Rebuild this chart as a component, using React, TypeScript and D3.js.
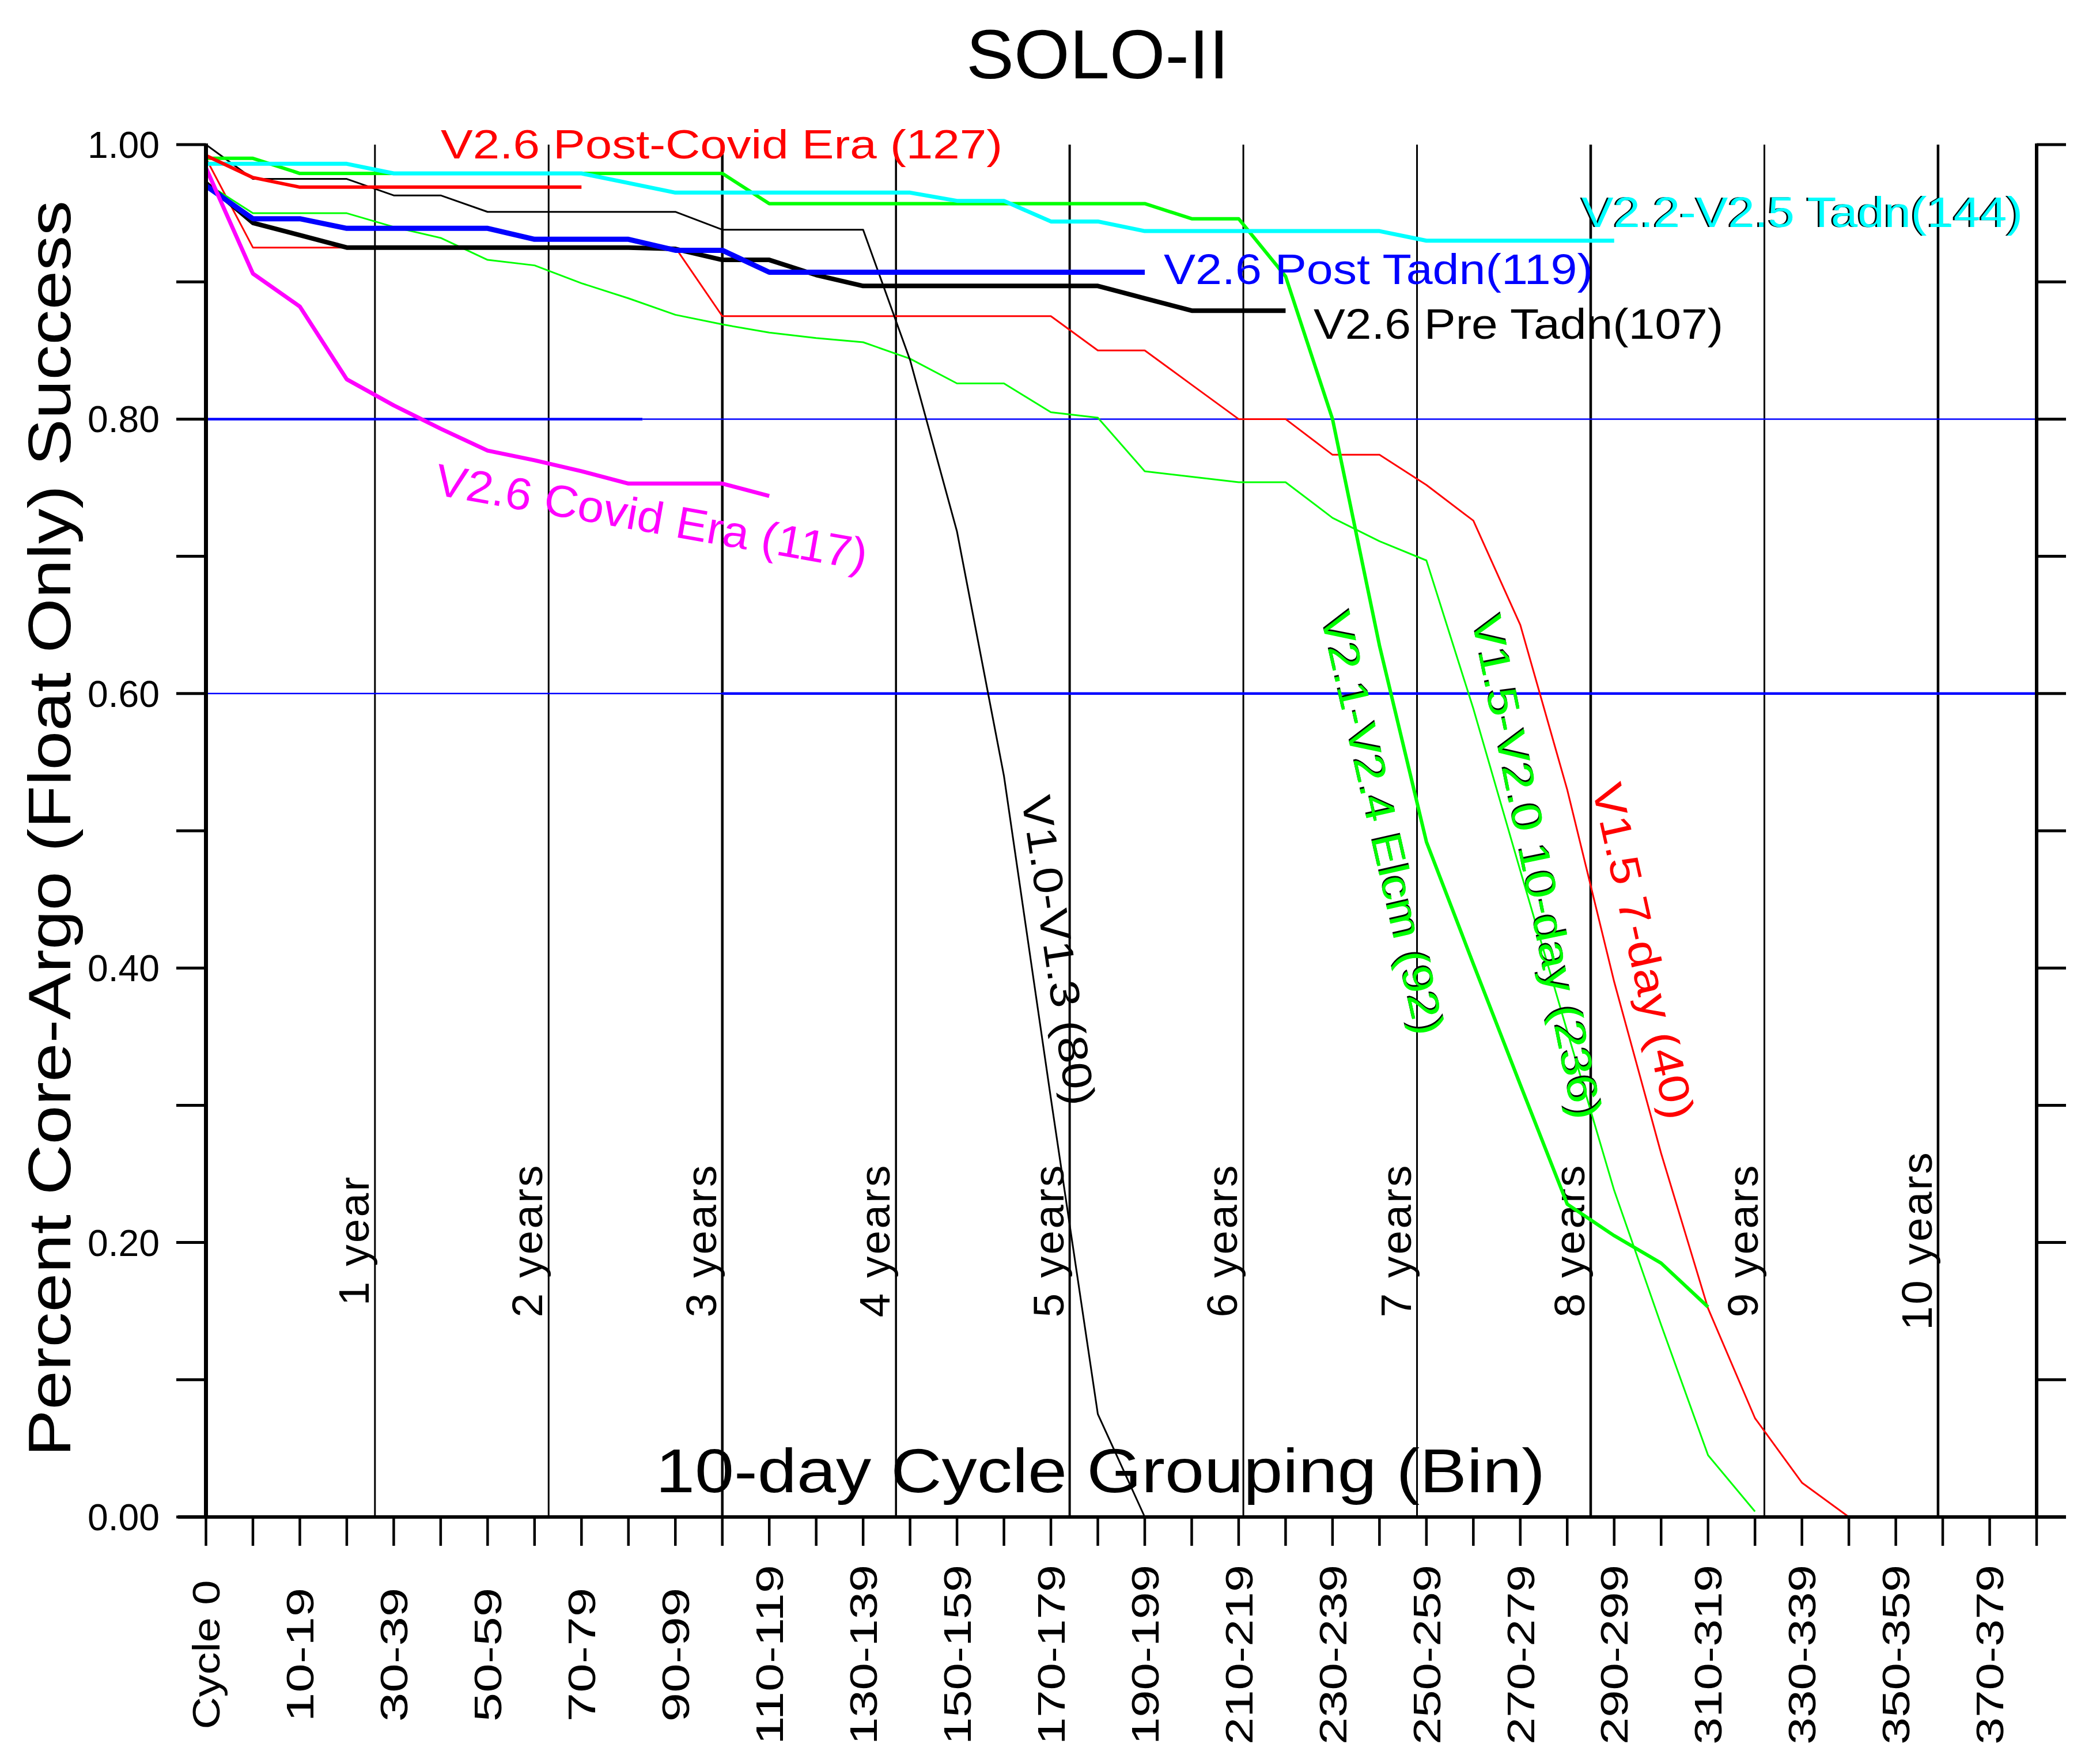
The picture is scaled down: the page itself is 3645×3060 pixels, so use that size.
import React from "react";
import * as d3 from "d3";

// ---------- DATA (index = 10-day cycle bin) ----------
const xTickLabels = [
  "Cycle 0", "10-19", "30-39", "50-59", "70-79", "90-99", "110-119", "130-139",
  "150-159", "170-179", "190-199", "210-219", "230-239", "250-259", "270-279",
  "290-299", "310-319", "330-339", "350-359", "370-379",
];
const yTickValues = [0, 0.2, 0.4, 0.6, 0.8, 1.0];
const yTickLabels = ["0.00", "0.20", "0.40", "0.60", "0.80", "1.00"];
const yearBins = [3.6, 7.3, 11.0, 14.7, 18.4, 22.1, 25.8, 29.5, 33.2, 36.9];
const yearLabels = ["1 year", "2 years", "3 years", "4 years", "5 years", "6 years", "7 years", "8 years", "9 years", "10 years"];
const thresholdValues = [0.8, 0.6];
const thresholdSplitBins = [9.3, 11.0];

// V1.5 7-day (40)
const v15SevenDay = [
  0.99, 0.925, 0.925, 0.925, 0.925, 0.925, 0.925, 0.925, 0.925, 0.925, 0.925,
  0.875, 0.875, 0.875, 0.875, 0.875, 0.875, 0.875, 0.875, 0.85, 0.85, 0.825,
  0.8, 0.8, 0.774, 0.774, 0.752, 0.726, 0.65, 0.53, 0.39, 0.265, 0.152, 0.072,
  0.025, 0.0,
];
// V1.5-V2.0 10-day (236)
const v15v20TenDay = [
  0.972, 0.95, 0.95, 0.95, 0.94, 0.932, 0.916, 0.912, 0.899, 0.888, 0.876,
  0.869, 0.863, 0.859, 0.856, 0.844, 0.826, 0.826, 0.805, 0.801, 0.762, 0.758,
  0.754, 0.754, 0.728, 0.711, 0.697, 0.589, 0.471, 0.354, 0.238, 0.14, 0.045,
  0.004,
];
// V1.0-V1.3 (80)
const v10v13 = [
  1.0, 0.975, 0.975, 0.975, 0.963, 0.963, 0.951, 0.951, 0.951, 0.951, 0.951,
  0.938, 0.938, 0.938, 0.938, 0.843, 0.718, 0.54, 0.305, 0.075, 0.0,
];
// V2.1-V2.4 Elcm (92)
const v21v24Elcm = [
  0.99, 0.99, 0.979, 0.979, 0.979, 0.979, 0.979, 0.979, 0.979, 0.979, 0.979,
  0.979, 0.957, 0.957, 0.957, 0.957, 0.957, 0.957, 0.957, 0.957, 0.957, 0.946,
  0.946, 0.904, 0.8, 0.635, 0.492, 0.403, 0.315, 0.228, 0.205, 0.185, 0.153,
];
// V2.2-V2.5 Tadn(144)
const v22v25Tadn = [
  0.986, 0.986, 0.986, 0.986, 0.979, 0.979, 0.979, 0.979, 0.979, 0.972, 0.965,
  0.965, 0.965, 0.965, 0.965, 0.965, 0.959, 0.959, 0.944, 0.944, 0.937, 0.937,
  0.937, 0.937, 0.937, 0.937, 0.93, 0.93, 0.93, 0.93, 0.93,
];
// V2.6 Pre Tadn(107)
const v26PreTadn = [
  0.972, 0.943, 0.934, 0.925, 0.925, 0.925, 0.925, 0.925, 0.925, 0.925, 0.924,
  0.916, 0.916, 0.905, 0.897, 0.897, 0.897, 0.897, 0.897, 0.897, 0.888, 0.879,
  0.879, 0.879,
];
// V2.6 Post Tadn(119)
const v26PostTadn = [
  0.97, 0.946, 0.946, 0.939, 0.939, 0.939, 0.939, 0.931, 0.931, 0.931, 0.923,
  0.923, 0.907, 0.907, 0.907, 0.907, 0.907, 0.907, 0.907, 0.907, 0.907,
];
// V2.6 Post-Covid Era (127)
const v26PostCovid = [0.992, 0.976, 0.969, 0.969, 0.969, 0.969, 0.969, 0.969, 0.969];
// V2.6 Covid Era (117)
const v26Covid = [
  0.983, 0.906, 0.882, 0.829, 0.81, 0.793, 0.777, 0.77, 0.762, 0.753, 0.753,
  0.753, 0.744,
];

// ---------- CHART ----------
const FONT = "'Liberation Sans', Arial, Helvetica, sans-serif";

const seriesList = [
  { data: v15SevenDay, color: "#ff0000", width: 3 },
  { data: v15v20TenDay, color: "#00ff00", width: 3 },
  { data: v10v13, color: "#000000", width: 3 },
  { data: v21v24Elcm, color: "#00ff00", width: 6 },
  { data: v26PreTadn, color: "#000000", width: 8 },
  { data: v26PostTadn, color: "#0000ff", width: 9 },
  { data: v22v25Tadn, color: "#00ffff", width: 7 },
  { data: v26PostCovid, color: "#ff0000", width: 6 },
  { data: v26Covid, color: "#ff00ff", width: 7 },
];

const seriesLabels = [
  { text: "V2.6 Post-Covid Era (127)", x: 765, y: 275, rot: 0, fs: 70, len: 975, color: "#ff0000", shadow: false },
  { text: "V2.2-V2.5 Tadn(144)", x: 2745, y: 394, rot: 0, fs: 74, len: 766, color: "#00ffff", shadow: true },
  { text: "V2.6 Post Tadn(119)", x: 2020, y: 493, rot: 0, fs: 74, len: 745, color: "#0000ff", shadow: false },
  { text: "V2.6 Pre Tadn(107)", x: 2280, y: 588, rot: 0, fs: 74, len: 711, color: "#000000", shadow: false },
  { text: "V2.6 Covid Era (117)", x: 752, y: 858, rot: 10, fs: 78, len: 760, color: "#ff00ff", shadow: false },
  { text: "V1.0-V1.3 (80)", x: 1773, y: 1385, rot: 81.6, fs: 72, len: 542, color: "#000000", shadow: false },
  { text: "V2.1-V2.4 Elcm (92)", x: 2292, y: 1069, rot: 77.2, fs: 74, len: 750, color: "#00ff00", shadow: true },
  { text: "V1.5-V2.0 10-day (236)", x: 2554, y: 1074, rot: 78.5, fs: 74, len: 890, color: "#00ff00", shadow: true },
  { text: "V1.5 7-day (40)", x: 2763, y: 1366, rot: 77.5, fs: 74, len: 595, color: "#ff0000", shadow: false },
];

const yearLineWidths = [3, 3, 4.5, 3.5, 4, 3, 3, 4.5, 3, 4.5];

export default function App() {
  const x = d3.scaleLinear().domain([0, 39]).range([357.5, 3535]);
  const y = d3.scaleLinear().domain([0, 1]).range([2633, 251]);
  const lineGen = d3
    .line<number>()
    .x((_, i) => x(i))
    .y((d) => y(d));

  const bins = d3.range(0, 40);
  const tenths = d3.range(0, 11).map((i) => i / 10);
  const x0 = x(0);
  const x1 = x(39);
  const yBottom = y(0);
  const yTop = y(1);

  const xLabelLen = (s: string) => (s.startsWith("Cycle") ? 259 : s.length <= 5 ? 233 : 312);

  return (
    <svg
      width={3645}
      height={3060}
      viewBox="0 0 3645 3060"
      style={{ position: "absolute", left: 0, top: 0, background: "#fff" }}
      fontFamily={FONT}
    >
      <rect x={0} y={0} width={3645} height={3060} fill="#ffffff" />

      {/* Title */}
      <text x={1905} y={136} fontSize={120} textAnchor="middle" textLength={456} lengthAdjust="spacingAndGlyphs" fill="#000">
        SOLO-II
      </text>

      {/* Year lines */}
      {yearBins.map((b, i) => (
        <line key={"yl" + i} x1={x(b)} x2={x(b)} y1={yTop} y2={yBottom} stroke="#000" strokeWidth={yearLineWidths[i]} />
      ))}

      {/* Year labels */}
      {yearBins.map((b, i) => (
        <text
          key={"yt" + i}
          transform={`translate(${x(b) - 11},2153) rotate(-90)`}
          fontSize={75}
          textAnchor="middle"
          letterSpacing={3}
          fill="#000"
        >
          {yearLabels[i]}
        </text>
      ))}

      {/* Threshold lines */}
      {thresholdValues.map((v, i) => {
        const split = x(thresholdSplitBins[i]);
        const wLeft = i === 0 ? 4.5 : 2.5;
        const wRight = i === 0 ? 2.5 : 4.5;
        return (
          <g key={"th" + i}>
            <line x1={x0} x2={split} y1={y(v)} y2={y(v)} stroke="#0000ff" strokeWidth={wLeft} />
            <line x1={split} x2={x1} y1={y(v)} y2={y(v)} stroke="#0000ff" strokeWidth={wRight} />
          </g>
        );
      })}

      {/* X-axis title (inside plot) */}
      <text x={1910} y={2590} fontSize={107} textAnchor="middle" textLength={1544} lengthAdjust="spacingAndGlyphs" fill="#000">
        10-day Cycle Grouping (Bin)
      </text>

      {/* Series */}
      {seriesList.map((s, i) => (
        <path
          key={"s" + i}
          d={lineGen(s.data) || ""}
          fill="none"
          stroke={s.color}
          strokeWidth={s.width}
          strokeLinejoin="round"
          strokeLinecap="butt"
        />
      ))}

      {/* Series labels */}
      {seriesLabels.map((l, i) => (
        <g key={"lab" + i} transform={`translate(${l.x},${l.y}) rotate(${l.rot})`}>
          {l.shadow && (
            <text x={-3} y={0} fontSize={l.fs} textLength={l.len} lengthAdjust="spacingAndGlyphs" fill="#000">
              {l.text}
            </text>
          )}
          <text x={0} y={0} fontSize={l.fs} textLength={l.len} lengthAdjust="spacingAndGlyphs" fill={l.color}>
            {l.text}
          </text>
        </g>
      ))}

      {/* Axes */}
      <line x1={x0} x2={x0} y1={yTop - 2} y2={yBottom + 3} stroke="#000" strokeWidth={7} />
      <line x1={x1} x2={x1} y1={yTop - 2} y2={yBottom + 3} stroke="#000" strokeWidth={6} />
      <line x1={309} x2={3586} y1={yBottom} y2={yBottom} stroke="#000" strokeWidth={6} />

      {/* Y ticks left and right */}
      {tenths.map((v, i) => (
        <g key={"yt" + i}>
          <line x1={306} x2={x0} y1={y(v)} y2={y(v)} stroke="#000" strokeWidth={5} />
          <line x1={x1} x2={3586} y1={y(v)} y2={y(v)} stroke="#000" strokeWidth={5} />
        </g>
      ))}
      {yTickValues.map((v, i) => (
        <text
          key={"ytl" + i}
          x={277}
          y={y(v) + 23}
          fontSize={64}
          textAnchor="end"
          textLength={125}
          lengthAdjust="spacingAndGlyphs"
          fill="#000"
        >
          {yTickLabels[i]}
        </text>
      ))}

      {/* X ticks */}
      {bins.map((b) => (
        <line key={"xt" + b} x1={x(b)} x2={x(b)} y1={yBottom} y2={yBottom + 50} stroke="#000" strokeWidth={4.5} />
      ))}
      {xTickLabels.map((s, i) => (
        <text
          key={"xtl" + i}
          transform={`translate(${x(i * 2)},2872) rotate(-90)`}
          fontSize={66}
          textAnchor="middle"
          dy="0.36em"
          textLength={xLabelLen(s)}
          lengthAdjust="spacingAndGlyphs"
          fill="#000"
        >
          {s}
        </text>
      ))}

      {/* Y-axis title */}
      <text
        transform="translate(122,1438) rotate(-90)"
        fontSize={104}
        textAnchor="middle"
        textLength={2180}
        lengthAdjust="spacingAndGlyphs"
        fill="#000"
      >
        Percent Core-Argo (Float Only) Success
      </text>
    </svg>
  );
}
